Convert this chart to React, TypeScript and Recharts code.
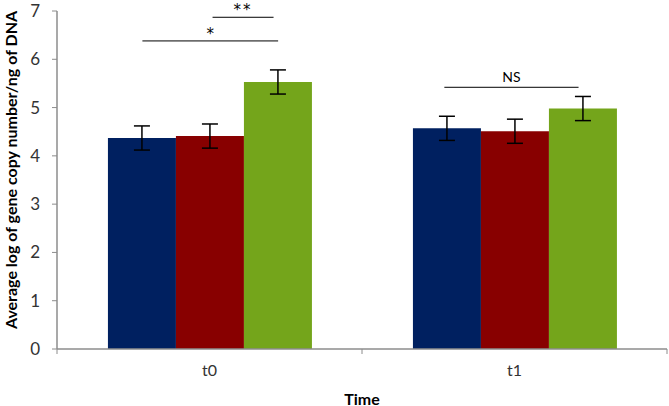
import React from 'react';
import {
  BarChart,
  Bar,
  XAxis,
  YAxis,
  ErrorBar,
  ReferenceLine,
} from 'recharts';

const categories = ['t0', 't1'];
const seriesA = [4.37, 4.57];
const seriesB = [4.41, 4.51];
const seriesC = [5.53, 4.98];
const errA = [0.25, 0.25];
const errB = [0.25, 0.25];
const errC = [0.25, 0.25];
const yTicks = [0, 1, 2, 3, 4, 5, 6, 7];
const boundaryTicks = [0, 1, 2];

// significance brackets: x in category units (0..2), y in data units
const brackets = [
  { x1: 0.51, x2: 0.71, y: 6.87, text: '**' },
  { x1: 0.28, x2: 0.725, y: 6.38, text: '*' },
  { x1: 1.27, x2: 1.71, y: 5.42, text: 'NS' },
];

const data = categories.map((c, i) => ({
  name: c,
  pos: i + 0.5,
  a: seriesA[i],
  b: seriesB[i],
  c: seriesC[i],
  ea: errA[i],
  eb: errB[i],
  ec: errC[i],
}));

const FONT = 'Lato, "Open Sans", sans-serif';
const AXIS = '#8c8c8c';
const TEXT = '#333333';

function YTitle({ viewBox }: any) {
  const x = viewBox.x + 10;
  const y = viewBox.y + viewBox.height / 2 - 10;
  return (
    <text
      x={x}
      y={y}
      transform={`rotate(-90 ${x} ${y})`}
      textAnchor="middle"
      dominantBaseline="central"
      fontFamily={FONT}
      fontWeight="bold"
      fontSize={16}
      fill="#000"
    >
      Average log of gene copy number/ng of DNA
    </text>
  );
}

function XTitle({ viewBox }: any) {
  const x = viewBox.x + viewBox.width / 2;
  return (
    <text
      x={x}
      y={viewBox.y + 48}
      textAnchor="middle"
      dominantBaseline="central"
      fontFamily={FONT}
      fontWeight="bold"
      fontSize={16}
      fill="#000"
    >
      Time
    </text>
  );
}

export default function App() {
  return (
    <div style={{ position: 'absolute', left: 0, top: 0, background: '#fff' }}>
      <BarChart
        width={669}
        height={406}
        data={data}
        margin={{ top: 11, right: 2, bottom: 0, left: 0 }}
        barCategoryGap="16.7%"
        barGap={0}
      >
        <XAxis
          xAxisId="a_bnd"
          dataKey="pos"
          type="number"
          domain={[0, 2]}
          ticks={boundaryTicks}
          interval={0}
          height={1}
          axisLine={{ stroke: AXIS, strokeWidth: 1.5 }}
          tickLine={{ stroke: AXIS }}
          tickSize={5}
          tickFormatter={() => ''}
          allowDataOverflow
        />
        <XAxis
          xAxisId="b_cat"
          dataKey="name"
          height={56}
          axisLine={false}
          tickLine={false}
          tickSize={0}
          tickMargin={15}
          tick={{ fontFamily: FONT, fontSize: 16, fill: TEXT }}
          label={<XTitle />}
        />
        <YAxis
          width={57}
          domain={[0, 7]}
          ticks={yTicks}
          interval={0}
          axisLine={{ stroke: AXIS, strokeWidth: 1.5 }}
          tickLine={{ stroke: AXIS }}
          tickSize={5}
          tickMargin={12}
          tick={{ fontFamily: FONT, fontSize: 17, fill: TEXT }}
          label={<YTitle />}
        />
        <Bar xAxisId="b_cat" dataKey="a" fill="#002060" isAnimationActive={false}>
          <ErrorBar dataKey="ea" width={8} stroke="#000" strokeWidth={1.5} />
        </Bar>
        <Bar xAxisId="b_cat" dataKey="b" fill="#880000" isAnimationActive={false}>
          <ErrorBar dataKey="eb" width={8} stroke="#000" strokeWidth={1.5} />
        </Bar>
        <Bar xAxisId="b_cat" dataKey="c" fill="#74A51B" isAnimationActive={false}>
          <ErrorBar dataKey="ec" width={8} stroke="#000" strokeWidth={1.5} />
        </Bar>
        {brackets.map((b) => (
          <ReferenceLine
            key={b.text}
            xAxisId="a_bnd"
            segment={[
              { x: b.x1, y: b.y },
              { x: b.x2, y: b.y },
            ]}
            stroke="#000"
            strokeWidth={1}
            ifOverflow="visible"
            label={{
              value: b.text,
              position: 'top',
              offset: b.text === 'NS' ? 5 : 2,
              fontFamily: b.text === 'NS' ? FONT : '"DejaVu Sans", sans-serif',
              fontSize: b.text === 'NS' ? 14 : 15,
              letterSpacing: b.text === '**' ? 2 : 0,
              fill: '#000',
            }}
          />
        ))}
      </BarChart>
    </div>
  );
}
